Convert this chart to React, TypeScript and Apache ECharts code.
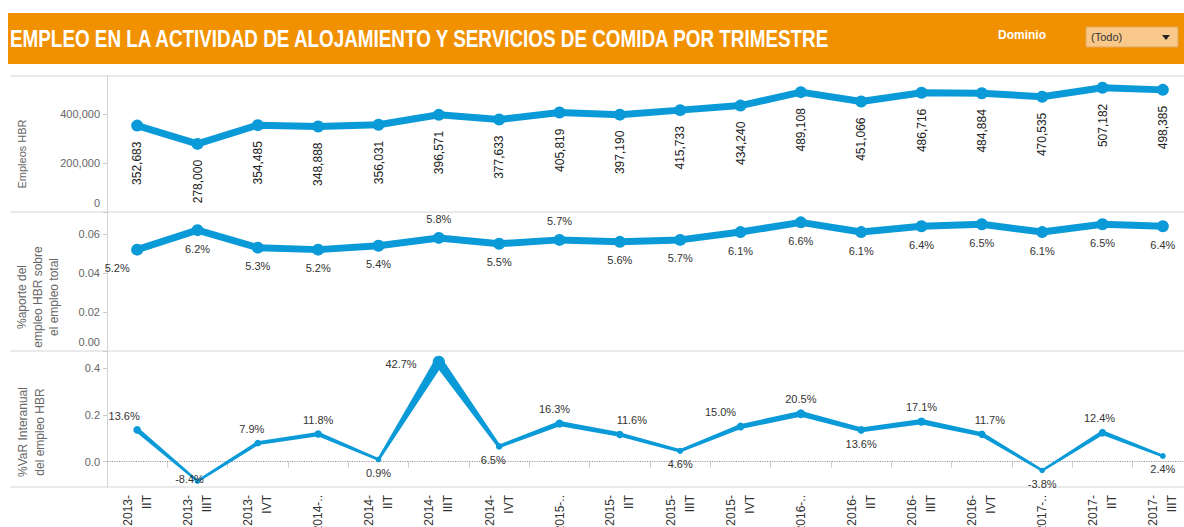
import React, { useEffect, useRef } from "react";
import * as echarts from "echarts";

const categories = [
  "2013-\nIIT", "2013-\nIIIT", "2013-\nIVT", "2014-..", "2014-\nIIT", "2014-\nIIIT",
  "2014-\nIVT", "2015-..", "2015-\nIIT", "2015-\nIIIT", "2015-\nIVT", "2016-..",
  "2016-\nIIT", "2016-\nIIIT", "2016-\nIVT", "2017-..", "2017-\nIIT", "2017-\nIIIT",
];
const empleos = [
  352683, 278000, 354485, 348888, 356031, 396571, 377633, 405819, 397190,
  415733, 434240, 489108, 451066, 486716, 484884, 470535, 507182, 498385,
];
const aporte = [
  0.052, 0.062, 0.053, 0.052, 0.054, 0.058, 0.055, 0.057, 0.056,
  0.057, 0.061, 0.066, 0.061, 0.064, 0.065, 0.061, 0.065, 0.064,
];
const variacion = [
  0.136, -0.084, 0.079, 0.118, 0.009, 0.427, 0.065, 0.163, 0.116,
  0.046, 0.15, 0.205, 0.136, 0.171, 0.117, -0.038, 0.124, 0.024,
];
const empleoTicks = [0, 200000, 400000];
const aporteTicks = [0, 0.02, 0.04, 0.06];
const variacionTicks = [0, 0.2, 0.4];

const TITLE = "EMPLEO EN LA ACTIVIDAD DE ALOJAMIENTO Y SERVICIOS DE COMIDA POR TRIMESTRE";
const BLUE = "#0A9AD8";
const FONT = "Liberation Sans, Arial, sans-serif";

// label placement (styling only)
const aporteLabelLayout: Array<[string, number, number]> = [
  ["bottom", -20, 0], ["bottom", 0, 0], ["bottom", 0, 0], ["bottom", 0, 0], ["bottom", 0, 0],
  ["top", 0, 0], ["bottom", 0, 0], ["top", 0, 0], ["bottom", 0, 0], ["bottom", 0, 0],
  ["bottom", 0, 0], ["bottom", 0, 0], ["bottom", 0, 0], ["bottom", 0, 0], ["bottom", 0, 0],
  ["bottom", 0, 0], ["bottom", 0, 0], ["bottom", 0, 0],
];
const variacionLabelLayout: Array<[string, number, number]> = [
  ["top", -13, 0], ["inside", -8, -2], ["top", -6, 0], ["top", 0, 0], ["bottom", 0, 0],
  ["left", 0, 2], ["bottom", -6, 0], ["top", -5, 0], ["top", 12, 0], ["bottom", 0, 0],
  ["top", -20, 0], ["top", 0, 0], ["bottom", 0, 0], ["top", 0, 0], ["top", 8, 0],
  ["bottom", 0, 0], ["top", -3, 0], ["bottom", 0, 0],
];

const sizeOf = (v: number) => 2.5 + 16 * Math.max(v, 0);

function measure(text: string, font: string) {
  const ctx = document.createElement("canvas").getContext("2d")!;
  ctx.font = font;
  return ctx.measureText(text).width;
}

export default function App() {
  const ref = useRef<HTMLDivElement>(null);
  useEffect(() => {
    const chart = echarts.init(ref.current!, null, { renderer: "svg" });
    const titleW = measure(TITLE, 'bold 24px "Liberation Sans"');
    const titleScale = 822 / titleW;

    const axisLabelBase = { color: "#666", fontSize: 11, margin: 7 };
    const zeroRich = { z: { padding: [0, 0, 18, 0], color: "#666", fontSize: 11 } };

    const option: any = {
      animation: false,
      textStyle: { fontFamily: FONT },
      grid: [
        { left: 107, width: 1086, top: 76, height: 136, outerBoundsMode: "none", containLabel: false },
        { left: 107, width: 1086, top: 212, height: 139, outerBoundsMode: "none", containLabel: false },
        { left: 107, width: 1086, top: 351, height: 136, outerBoundsMode: "none", containLabel: false },
      ],
      xAxis: [0, 1, 2].map((g) => ({
        type: "category",
        gridIndex: g,
        data: categories,
        boundaryGap: true,
        show: g === 2,
        axisLine: { show: false },
        axisTick: { show: true, interval: 0, length: 6, lineStyle: { color: "#cfcfcf" } },
        axisLabel: {
          interval: 0,
          rotate: 90,
          fontSize: 12,
          color: "#333",
          lineHeight: 19,
          margin: 8,
        },
      })),
      yAxis: [
        {
          gridIndex: 0, type: "value", min: 0, max: 555000,
          axisLine: { show: true, lineStyle: { color: "#d4d4d4" } },
          axisTick: { show: true, length: 4, customValues: empleoTicks, lineStyle: { color: "#ccc" } },
          axisLabel: {
            ...axisLabelBase, customValues: empleoTicks, rich: zeroRich,
            formatter: (v: number) => (v === 0 ? "{z|0}" : v.toLocaleString("en-US")),
          },
          splitLine: { show: false },
        },
        {
          gridIndex: 1, type: "value", min: 0, max: 0.0713,
          axisLine: { show: true, lineStyle: { color: "#d4d4d4" } },
          axisTick: { show: true, length: 4, customValues: aporteTicks, lineStyle: { color: "#ccc" } },
          axisLabel: {
            ...axisLabelBase, customValues: aporteTicks, rich: zeroRich,
            formatter: (v: number) => (v === 0 ? "{z|0.00}" : v.toFixed(2)),
          },
          splitLine: { show: false },
        },
        {
          gridIndex: 2, type: "value", min: -0.109, max: 0.474,
          axisLine: { show: true, lineStyle: { color: "#d4d4d4" } },
          axisTick: { show: true, length: 4, customValues: variacionTicks, lineStyle: { color: "#ccc" } },
          axisLabel: {
            ...axisLabelBase, customValues: variacionTicks,
            formatter: (v: number) => v.toFixed(1),
          },
          splitLine: { show: false },
        },
      ],
      series: [
        {
          type: "line", xAxisIndex: 0, yAxisIndex: 0, data: empleos,
          symbol: "circle", symbolSize: 12,
          lineStyle: { width: 7, color: BLUE }, itemStyle: { color: BLUE },
          label: {
            show: true, position: "bottom", distance: 10, rotate: 90,
            align: "right", verticalAlign: "middle",
            fontSize: 12, color: "#222",
            formatter: (p: any) => Number(p.value).toLocaleString("en-US"),
          },
        },
        {
          type: "line", xAxisIndex: 1, yAxisIndex: 1,
          data: aporte.map((v, i) => ({
            value: v,
            label: {
              position: aporteLabelLayout[i][0],
              offset: [aporteLabelLayout[i][1], aporteLabelLayout[i][2]],
            },
          })),
          symbol: "circle", symbolSize: 12,
          lineStyle: { width: 7, color: BLUE }, itemStyle: { color: BLUE },
          label: {
            show: true, distance: 7, fontSize: 11, color: "#333",
            formatter: (p: any) => (Number(p.value) * 100).toFixed(1) + "%",
          },
        },
        {
          type: "custom", xAxisIndex: 2, yAxisIndex: 2,
          data: variacion.map((v, i) => [i, v]),
          encode: { x: 0, y: 1 },
          clip: false,
          renderItem: (params: any, api: any) => {
            const i = params.dataIndex;
            if (i >= variacion.length - 1) return { type: "group", children: [] };
            const p0 = api.coord([i, variacion[i]]);
            const p1 = api.coord([i + 1, variacion[i + 1]]);
            const dx = p1[0] - p0[0];
            const dy = p1[1] - p0[1];
            const len = Math.sqrt(dx * dx + dy * dy) || 1;
            const nx = -dy / len;
            const ny = dx / len;
            const w0 = sizeOf(variacion[i]) / 2;
            const w1 = sizeOf(variacion[i + 1]) / 2;
            return {
              type: "polygon",
              shape: {
                points: [
                  [p0[0] + nx * w0, p0[1] + ny * w0],
                  [p1[0] + nx * w1, p1[1] + ny * w1],
                  [p1[0] - nx * w1, p1[1] - ny * w1],
                  [p0[0] - nx * w0, p0[1] - ny * w0],
                ],
              },
              style: { fill: BLUE },
            };
          },
          z: 2,
        },
        {
          type: "line", xAxisIndex: 2, yAxisIndex: 2,
          data: variacion.map((v, i) => ({
            value: v,
            symbolSize: sizeOf(v) + 3,
            label: {
              position: variacionLabelLayout[i][0],
              offset: [variacionLabelLayout[i][1], variacionLabelLayout[i][2]],
              distance: variacionLabelLayout[i][0] === "left" ? 16 : 5,
            },
          })),
          symbol: "circle",
          lineStyle: { width: 0, opacity: 0 },
          itemStyle: { color: BLUE },
          z: 3,
          label: {
            show: true, fontSize: 11, color: "#333",
            formatter: (p: any) => (Number(p.value) * 100).toFixed(1) + "%",
          },
          markLine: {
            silent: true, symbol: "none", label: { show: false },
            lineStyle: { type: "dotted", color: "#9a9a9a", width: 1.2 },
            data: [{ yAxis: 0 }],
            z: 1,
          },
        },
      ],
      graphic: [
        { type: "rect", shape: { x: 8, y: 13, width: 1176, height: 51 }, style: { fill: "#F29100" } },
        {
          type: "text", x: 10, y: 39, scaleX: titleScale,
          style: {
            text: TITLE, fill: "#fff", fontSize: 24, fontWeight: "bold",
            fontFamily: "Liberation Sans", verticalAlign: "middle", align: "left",
          },
        },
        {
          type: "text", x: 998, y: 35,
          style: { text: "Dominio", fill: "#fff", fontSize: 12, fontWeight: "bold", fontFamily: FONT, verticalAlign: "middle" },
        },
        {
          type: "rect", shape: { x: 1086, y: 27, width: 92, height: 20 },
          style: { fill: "#F8C98A", stroke: "#E5A559", lineWidth: 1 },
        },
        {
          type: "text", x: 1091, y: 37,
          style: { text: "(Todo)", fill: "#333", fontSize: 11, fontFamily: FONT, verticalAlign: "middle" },
        },
        { type: "polygon", shape: { points: [[1162, 35], [1170, 35], [1166, 40]] }, style: { fill: "#222" } },
        ...[76, 212, 351, 487].map((y) => ({
          type: "line", shape: { x1: 10, y1: y, x2: 1184, y2: y },
          style: { stroke: "#e3e3e3", lineWidth: 1.5 }, z: -1,
        })),
        {
          type: "text", x: 22, y: 154, rotation: Math.PI / 2,
          style: { text: "Empleos HBR", fill: "#666", fontSize: 11, fontFamily: FONT, align: "center", verticalAlign: "middle" },
        },
        {
          type: "text", x: 38, y: 297, rotation: Math.PI / 2,
          style: {
            text: "%aporte del\nempleo HBR sobre\nel empleo total", fill: "#666", fontSize: 12,
            lineHeight: 16, fontFamily: FONT, align: "center", verticalAlign: "middle",
          },
        },
        {
          type: "text", x: 31, y: 432, rotation: Math.PI / 2,
          style: {
            text: "%VaR Interanual\ndel empleo HBR", fill: "#666", fontSize: 12,
            lineHeight: 17, fontFamily: FONT, align: "center", verticalAlign: "middle",
          },
        },
      ],
    };
    chart.setOption(option);
    return () => chart.dispose();
  }, []);
  return (
    <div
      ref={ref}
      style={{ position: "fixed", left: 0, top: 0, width: 1184, height: 527, background: "#fff" }}
    />
  );
}
